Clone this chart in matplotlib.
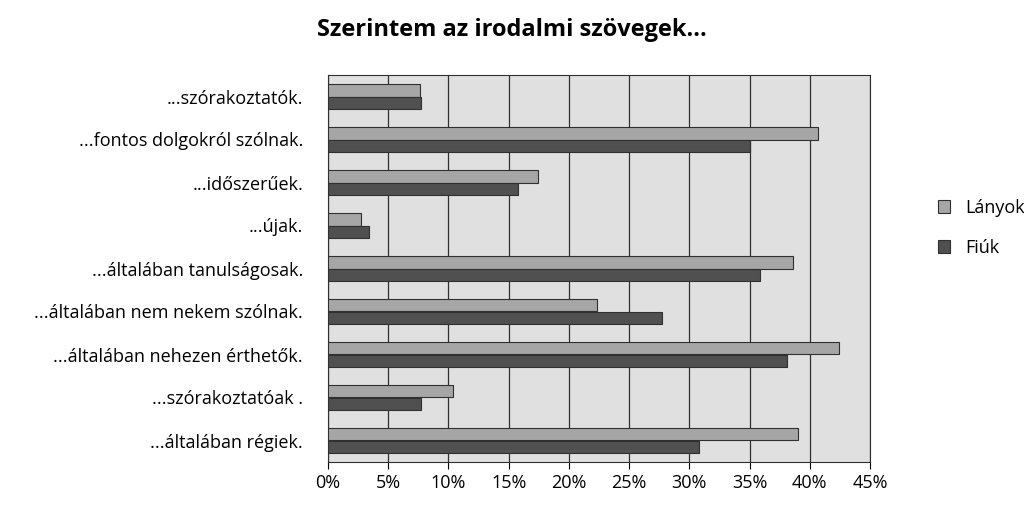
import matplotlib.pyplot as plt
import numpy as np

plt.rcParams['font.family'] = ['Open Sans', 'DejaVu Sans']

categories = ["...szórakoztatók.", "...fontos dolgokról szólnak.", "...időszerűek.", "...újak.",
              "...általában tanulságosak.", "...általában nem nekem szólnak.",
              "...általában nehezen érthetők.", "...szórakoztatóak .", "...általában régiek."]
lanyok = [7.6, 40.7, 17.4, 2.7, 38.6, 22.3, 42.4, 10.4, 39.0]
fiuk = [7.7, 35.0, 15.8, 3.4, 35.9, 27.7, 38.1, 7.7, 30.8]

fig = plt.figure(figsize=(10.24, 5.12), dpi=100)
ax = fig.add_axes([328 / 1024, 1 - 462 / 512, 542 / 1024, 387 / 512])
ax.set_facecolor('#e0e0e0')

y = np.arange(len(categories))
h = 0.3
ax.barh(y - h / 2, lanyok, height=h, color='#a6a6a6', edgecolor='#303030', linewidth=0.8, label='Lányok', zorder=3)
ax.barh(y + h / 2, fiuk, height=h, color='#505050', edgecolor='#303030', linewidth=0.8, label='Fiúk', zorder=3)

ax.set_ylim(len(categories) - 0.5, -0.5)
ax.set_xlim(0, 45)
ax.set_xticks(range(0, 46, 5))
ax.set_xticklabels([f"{v}%" for v in range(0, 46, 5)], fontsize=13)
ax.set_yticks(y)
ax.set_yticklabels(categories, fontsize=13)
ax.grid(axis='x', color='#303030', linewidth=0.9, zorder=0)
ax.tick_params(axis='y', length=0, pad=18)
ax.tick_params(axis='x', length=5, direction='out')
for s in ['top', 'right']:
    ax.spines[s].set_color('#303030')
for s in ['left', 'bottom']:
    ax.spines[s].set_color('#303030')

fig.suptitle("Szerintem az irodalmi szövegek…", fontsize=17, fontweight='bold', y=0.965)
fig.legend(loc='center left', bbox_to_anchor=(0.9, 0.555), frameon=False, fontsize=13,
           handlelength=0.7, handleheight=0.7, labelspacing=1.2)

fig.savefig("out.png", dpi=100)
